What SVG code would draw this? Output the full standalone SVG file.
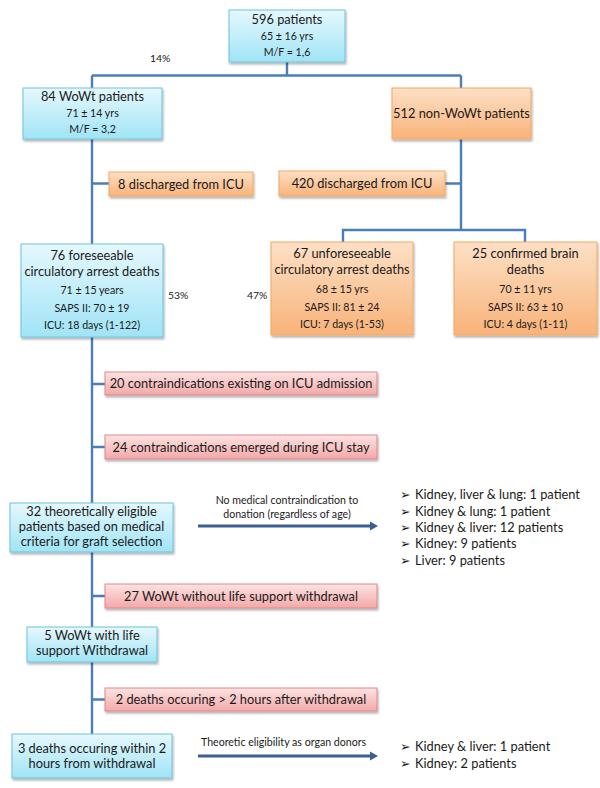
<svg xmlns="http://www.w3.org/2000/svg" width="600" height="788" viewBox="0 0 600 788">
<style>
  text { font-family: Lato, "Liberation Sans", sans-serif; fill: #1a1a1a; text-anchor: middle; }
  .t { font-size: 12.8px; }
  .s { font-size: 10.6px; }
  .p { font-size: 10.4px; text-anchor: start; }
  .lbl { font-size: 10.6px; }
  .li { font-size: 12.8px; text-anchor: start; }
  .bul { font-family: "DejaVu Sans", sans-serif; font-size: 12.5px; }
  .blue { fill: url(#gBlue); stroke: #6cc4dd; stroke-width: 1; filter: url(#sh); }
  .orange { fill: url(#gOrange); stroke: #f0a863; stroke-width: 1; filter: url(#sh); }
  .pink { fill: url(#gPink); stroke: #dc8a8a; stroke-width: 1; filter: url(#sh); }
  .con { stroke: #4a7ebb; stroke-width: 2.4; fill: none; }
  .arr { stroke: #3c5f92; stroke-width: 3.2; fill: none; }
</style>
<defs>
  <linearGradient id="gBlue" x1="0" y1="0" x2="0" y2="1">
    <stop offset="0" stop-color="#e6f8fd"/>
    <stop offset="1" stop-color="#a0e4f6"/>
  </linearGradient>
  <linearGradient id="gOrange" x1="0" y1="0" x2="0" y2="1">
    <stop offset="0" stop-color="#fde0c6"/>
    <stop offset="1" stop-color="#f8b379"/>
  </linearGradient>
  <linearGradient id="gPink" x1="0" y1="0" x2="0" y2="1">
    <stop offset="0" stop-color="#fde3e3"/>
    <stop offset="1" stop-color="#f3a8a8"/>
  </linearGradient>
  <filter id="sh" x="-10%" y="-20%" width="130%" height="150%">
    <feDropShadow dx="1" dy="2" stdDeviation="1.3" flood-color="#000" flood-opacity="0.3"/>
  </filter>
  <marker id="ah" markerUnits="userSpaceOnUse" markerWidth="9" markerHeight="10" refX="1" refY="5" orient="auto">
    <path d="M0,0.5 L8,5 L0,9.5 Z" fill="#3c5f92"/>
  </marker>
</defs>

<g id="connectors">
  <path class="con" d="M287,62 V75.5 M92,75.5 H461 M92,75.5 V734 M461,75.5 V230 M343,242 V230 H525 V242"/>
  <path class="con" d="M92,183.5 H109 M445,183.5 H461 M92,384 H105 M92,447 H105 M92,596 H105 M92,699.5 H105"/>
  <path class="arr" d="M198,526 H371" marker-end="url(#ah)"/>
  <path class="arr" d="M198,756 H371" marker-end="url(#ah)"/>
</g>

<g id="n596">
  <rect class="blue" x="229" y="10" width="116" height="52"/>
  <text class="t" x="287" y="24">596 patients</text>
  <text class="s" x="287" y="40">65 ± 16 yrs</text>
  <text class="s" x="287" y="56">M/F = 1,6</text>
</g>
<text class="p" x="150" y="62">14%</text>

<g id="n84">
  <rect class="blue" x="23" y="88" width="139" height="51"/>
  <text class="t" x="92.5" y="101">84 WoWt patients</text>
  <text class="s" x="92.5" y="117">71 ± 14 yrs</text>
  <text class="s" x="92.5" y="133">M/F = 3,2</text>
</g>

<g id="n512">
  <rect class="orange" x="392" y="88" width="139" height="51"/>
  <text class="t" x="461.5" y="118">512 non-WoWt patients</text>
</g>

<g id="n8">
  <rect class="orange" x="109" y="172" width="144" height="24"/>
  <text class="t" x="181" y="188.5">8 discharged from ICU</text>
</g>

<g id="n420">
  <rect class="orange" x="279" y="171" width="166" height="25"/>
  <text class="t" x="362" y="188">420 discharged from ICU</text>
</g>

<g id="n76">
  <rect class="blue" x="21" y="244" width="142" height="93"/>
  <text class="t" x="92" y="260">76 foreseeable</text>
  <text class="t" x="92" y="276">circulatory arrest deaths</text>
  <text class="s" x="92" y="294">71 ± 15 years</text>
  <text class="s" x="92" y="312">SAPS II:  70 ± 19</text>
  <text class="s" x="92" y="329">ICU: 18 days (1-122)</text>
</g>
<text class="p" x="168" y="299">53%</text>
<text class="p" x="247" y="299">47%</text>

<g id="n67">
  <rect class="orange" x="271" y="242" width="142" height="93"/>
  <text class="t" x="342" y="258">67 unforeseeable</text>
  <text class="t" x="342" y="274">circulatory arrest deaths</text>
  <text class="s" x="342" y="293">68 ± 15 yrs</text>
  <text class="s" x="342" y="311">SAPS II: 81 ± 24</text>
  <text class="s" x="342" y="328">ICU: 7 days (1-53)</text>
</g>

<g id="n25">
  <rect class="orange" x="454" y="242" width="143" height="93"/>
  <text class="t" x="525.5" y="258">25 confirmed brain</text>
  <text class="t" x="525.5" y="274">deaths</text>
  <text class="s" x="525.5" y="293">70 ± 11 yrs</text>
  <text class="s" x="525.5" y="311">SAPS II: 63 ± 10</text>
  <text class="s" x="525.5" y="328">ICU: 4 days (1-11)</text>
</g>

<g id="n20">
  <rect class="pink" x="105" y="372" width="272" height="23"/>
  <text class="t" x="241" y="388">20 contraindications existing on ICU admission</text>
</g>

<g id="n24">
  <rect class="pink" x="105" y="435" width="272" height="24"/>
  <text class="t" x="241" y="451.5">24 contraindications emerged during ICU stay</text>
</g>

<g id="n32">
  <rect class="blue" x="10" y="503" width="163" height="49"/>
  <text class="t" x="91.5" y="516">32 theoretically eligible</text>
  <text class="t" x="91.5" y="531">patients based on medical</text>
  <text class="t" x="91.5" y="546">criteria for graft selection</text>
</g>

<g id="lbl1">
  <text class="lbl" x="287" y="504">No medical contraindication to</text>
  <text class="lbl" x="287" y="518">donation (regardless of age)</text>
</g>

<g id="list1">
  <text class="li" x="400" y="499"><tspan class="bul">➢</tspan><tspan x="415">Kidney, liver &amp; lung: 1 patient</tspan></text>
  <text class="li" x="400" y="515.5"><tspan class="bul">➢</tspan><tspan x="415">Kidney &amp; lung: 1 patient</tspan></text>
  <text class="li" x="400" y="532"><tspan class="bul">➢</tspan><tspan x="415">Kidney &amp; liver: 12 patients</tspan></text>
  <text class="li" x="400" y="548"><tspan class="bul">➢</tspan><tspan x="415">Kidney: 9 patients</tspan></text>
  <text class="li" x="400" y="564.5"><tspan class="bul">➢</tspan><tspan x="415">Liver: 9 patients</tspan></text>
</g>

<g id="n27">
  <rect class="pink" x="105" y="584" width="272" height="24"/>
  <text class="t" x="241" y="600.5">27 WoWt without life support withdrawal</text>
</g>

<g id="n5">
  <rect class="blue" x="27" y="627" width="130" height="35"/>
  <text class="t" x="92" y="640">5 WoWt with life</text>
  <text class="t" x="92" y="655">support Withdrawal</text>
</g>

<g id="n2">
  <rect class="pink" x="105" y="688" width="272" height="23"/>
  <text class="t" x="241" y="704">2 deaths occuring &gt; 2 hours after withdrawal</text>
</g>

<g id="n3">
  <rect class="blue" x="12" y="734" width="160" height="44"/>
  <text class="t" x="92" y="753">3 deaths occuring within 2</text>
  <text class="t" x="92" y="768">hours from withdrawal</text>
</g>

<g id="lbl2">
  <text class="lbl" x="201" y="746" style="text-anchor:start">Theoretic eligibility as organ donors</text>
</g>

<g id="list2">
  <text class="li" x="400" y="751"><tspan class="bul">➢</tspan><tspan x="415">Kidney &amp; liver: 1 patient</tspan></text>
  <text class="li" x="400" y="767.5"><tspan class="bul">➢</tspan><tspan x="415">Kidney: 2 patients</tspan></text>
</g>
</svg>
